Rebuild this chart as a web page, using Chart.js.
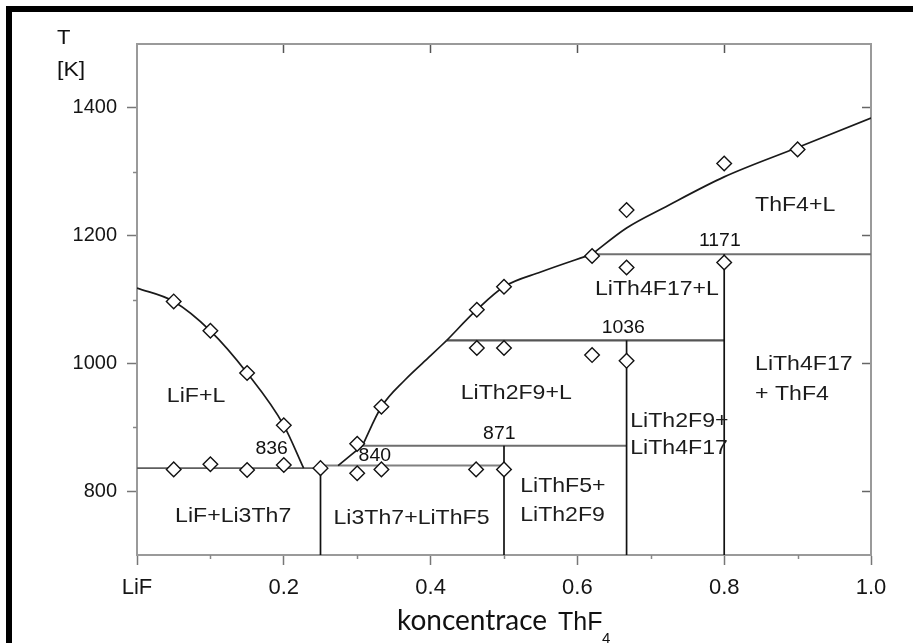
<!DOCTYPE html>
<html>
<head>
<meta charset="utf-8">
<title>LiF – ThF4</title>
<script src="https://cdn.jsdelivr.net/npm/chart.js@4.4.1/dist/chart.umd.min.js"></script>
<style>
  html, body { margin: 0; padding: 0; background: #fff; }
  #wrap { width: 913px; height: 643px; }
</style>
</head>
<body>
<div id="wrap"><canvas id="c" width="913" height="643"></canvas></div>
<script>
// Composition axis: mole fraction of ThF4 (0 = pure LiF)
const xTickValues = [0, 0.2, 0.4, 0.6, 0.8, 1.0];
const xTickLabels = ['LiF', '0.2', '0.4', '0.6', '0.8', '1.0'];
const xMinorTicks = [0.1, 0.3, 0.5, 0.7, 0.9];
const yTickValues = [800, 1000, 1200, 1400];
const yTickLabels = ['800', '1000', '1200', '1400'];
const yMinorTicks = [900, 1100, 1300];

// Liquidus branches, [x ThF4, T in K]
const liquidusLiF     = [[0, 1118], [0.05, 1097], [0.1, 1051], [0.15, 985], [0.2, 903], [0.227, 836]];
const liquidusLi3ThF7 = [[0.274, 840], [0.307, 871]];
const liquidusLiThF5  = [[0.307, 871], [0.333, 932], [0.365, 974], [0.40, 1012], [0.422, 1036]];
const liquidusLiTh2F9 = [[0.422, 1036], [0.463, 1084], [0.50, 1120], [0.55, 1143], [0.62, 1171]];
const liquidusThF4    = [[0.62, 1171], [0.667, 1212], [0.72, 1245], [0.80, 1292], [0.90, 1338], [1.0, 1384]];

// Invariant temperatures (K) and the composition span of each isotherm
const isotherms     = [836, 840, 871, 1036, 1171];
const isothermSpans = [[0, 0.25], [0.25, 0.5], [0.307, 0.667], [0.422, 0.8], [0.62, 1.0]];

// Intermediate compounds: composition and the isotherm closing their boundary
const compoundX   = [0.25, 0.5, 0.667, 0.8];
const compoundTop = [836, 871, 1036, 1171];

// Thermal-analysis measurements
const measuredX = [0.05, 0.1, 0.15, 0.2,
                   0.05, 0.1, 0.15, 0.2, 0.25, 0.3, 0.333, 0.462, 0.5,
                   0.3, 0.333, 0.463, 0.5, 0.62, 0.667, 0.8, 0.9,
                   0.463, 0.5, 0.62, 0.667, 0.667, 0.8];
const measuredT = [1097, 1051, 985, 903,
                   834, 842, 833, 841, 836, 828, 834, 834, 834,
                   874, 932, 1084, 1120, 1168, 1240, 1313, 1335,
                   1024, 1024, 1013, 1004, 1150, 1158];

// Phase-field names, anchored in data coordinates
const regionLabels = [
  { text: 'LiF+L',         x: 0.0804, T: 948,  align: 'center' },
  { text: 'LiF+Li3Th7',    x: 0.131,  T: 760,  align: 'center' },
  { text: 'Li3Th7+LiThF5', x: 0.374,  T: 757,  align: 'center' },
  { text: 'LiThF5+',       x: 0.522,  T: 807,  align: 'left' },
  { text: 'LiTh2F9',       x: 0.522,  T: 763,  align: 'left' },
  { text: 'LiTh2F9+L',     x: 0.441,  T: 953,  align: 'left' },
  { text: 'LiTh2F9+',      x: 0.672,  T: 909,  align: 'left' },
  { text: 'LiTh4F17',      x: 0.672,  T: 867,  align: 'left' },
  { text: 'LiTh4F17+L',    x: 0.624,  T: 1116, align: 'left' },
  { text: 'ThF4+L',        x: 0.842,  T: 1248, align: 'left' },
  { text: 'LiTh4F17',      x: 0.842,  T: 998,  align: 'left' },
  { text: '+ ThF4',        x: 0.842,  T: 951,  align: 'left' }
];
// Where each isotherm's temperature is written (x position, pixel lift above the line)
const isothermLabelX  = [0.1835, 0.324, 0.4936, 0.6625, 0.794];
const isothermLabelDy = [19, 10, 12, 12, 13];
const isothermColors  = ['#5e5e5e', '#808080', '#6e6e6e', '#555555', '#707070'];
const isothermWidths  = [1.7, 2, 2.2, 2.4, 2];

const pairs = a => a.map(([x, y]) => ({ x, y }));
const SANS = "'Liberation Sans', Arial, sans-serif";

const curve = data => ({
  data: pairs(data), showLine: true, pointRadius: 0, borderColor: '#1a1a1a',
  borderWidth: 1.7, cubicInterpolationMode: 'monotone', fill: false, order: 2
});

const datasets = [
  {
    label: 'measured',
    data: measuredX.map((x, i) => ({ x, y: measuredT[i] })),
    showLine: false, pointStyle: 'rectRot', pointRadius: 7.3, pointHoverRadius: 7.3,
    pointBackgroundColor: '#ffffff', pointBorderColor: '#111111', pointBorderWidth: 1.4,
    order: 0, clip: false
  },
  curve(liquidusLiF), curve(liquidusLi3ThF7), curve(liquidusLiThF5),
  curve(liquidusLiTh2F9), curve(liquidusThF4)
];
isotherms.forEach((T, i) => {
  datasets.push({
    data: isothermSpans[i].map(x => ({ x, y: T })), showLine: true, pointRadius: 0,
    borderColor: isothermColors[i], borderWidth: isothermWidths[i], order: 3
  });
});
compoundX.forEach((x, i) => {
  datasets.push({
    data: [{ x, y: 700 }, { x, y: compoundTop[i] }], showLine: true, pointRadius: 0,
    borderColor: '#111111', borderWidth: 1.7, order: 1
  });
});

function stretchText(ctx, text, x, y, align, sx) {
  ctx.save();
  ctx.translate(x, y);
  ctx.scale(sx, 1);
  ctx.textAlign = align;
  ctx.fillText(text, 0, 0);
  ctx.restore();
}

// Frame, minor ticks, phase labels and axis titles
const decor = {
  id: 'decor',
  beforeDraw(chart) {
    const c = chart.ctx;
    c.save();
    c.fillStyle = '#ffffff';
    c.fillRect(0, 0, chart.width, chart.height);
    c.fillStyle = '#000000';
    c.fillRect(6, 6, chart.width - 6, 6);
    c.fillRect(6, 6, 6, chart.height - 6);
    c.restore();
  },
  afterDraw(chart) {
    const c = chart.ctx, xs = chart.scales.x, ys = chart.scales.y;
    const area = chart.chartArea;
    c.save();
    // minor ticks
    c.strokeStyle = '#888';
    c.lineWidth = 1.5;
    xMinorTicks.forEach(v => {
      const px = Math.round(xs.getPixelForValue(v)) + 0.5;
      c.beginPath(); c.moveTo(px, area.bottom); c.lineTo(px, area.bottom + 4); c.stroke();
    });
    yMinorTicks.forEach(v => {
      const py = Math.round(ys.getPixelForValue(v)) + 0.5;
      c.beginPath(); c.moveTo(area.left, py); c.lineTo(area.left - 4, py); c.stroke();
    });

    // phase fields
    c.fillStyle = '#1c1c1c';
    c.textBaseline = 'middle';
    c.font = '21px ' + SANS;
    regionLabels.forEach(l => {
      stretchText(c, l.text, xs.getPixelForValue(l.x), ys.getPixelForValue(l.T), l.align, 1.1);
    });

    // invariant temperatures
    c.font = '18px ' + SANS;
    c.fillStyle = '#111111';
    isotherms.forEach((T, i) => {
      stretchText(c, String(T), xs.getPixelForValue(isothermLabelX[i]),
        ys.getPixelForValue(T) - isothermLabelDy[i], 'center', 1.08);
    });

    // axis titles
    c.fillStyle = '#111111';
    c.font = '20px ' + SANS;
    stretchText(c, 'T', 57, 38, 'left', 1.1);
    stretchText(c, '[K]', 57, 70, 'left', 1.15);

    c.textBaseline = 'alphabetic';
    c.font = "28px Lato, 'Open Sans', sans-serif";
    c.textAlign = 'left';
    c.fillText('koncentrace', 397, 630);
    c.font = '25px ' + SANS;
    c.fillText('ThF', 558, 630);
    c.font = '15px ' + SANS;
    c.fillText('4', 602, 643);
    c.restore();
  }
};

const hiddenTicks = { display: false };

new Chart(document.getElementById('c'), {
  type: 'scatter',
  data: { datasets },
  plugins: [decor],
  options: {
    responsive: false,
    animation: false,
    events: [],
    layout: { padding: { top: 44, right: 42, left: 0, bottom: 0 } },
    plugins: { legend: { display: false }, tooltip: { enabled: false } },
    scales: {
      x: {
        type: 'linear', position: 'bottom', min: 0, max: 1,
        afterBuildTicks: s => { s.ticks = xTickValues.map(v => ({ value: v })); },
        afterFit: s => { s.height = 88; },
        ticks: {
          callback: (v, i) => xTickLabels[i], color: '#151515',
          font: { family: SANS, size: 22 }, padding: 10, maxRotation: 0, autoSkip: false
        },
        grid: { drawOnChartArea: false, tickLength: 10, tickColor: '#777', tickWidth: 1.5 },
        border: { color: '#9a9a9a', width: 2 }
      },
      y: {
        type: 'linear', position: 'left', min: 700, max: 1500,
        afterBuildTicks: s => { s.ticks = yTickValues.map(v => ({ value: v })); },
        afterFit: s => { s.width = 137; },
        ticks: {
          callback: (v, i) => yTickLabels[i], color: '#151515',
          font: { family: SANS, size: 20 }, padding: 10
        },
        grid: { drawOnChartArea: false, tickLength: 10, tickColor: '#777', tickWidth: 1.5 },
        border: { color: '#9a9a9a', width: 2 }
      },
      x2: {
        type: 'linear', position: 'top', min: 0, max: 1,
        afterBuildTicks: s => { s.ticks = xTickValues.slice(1, -1).map(v => ({ value: v })); },
        afterFit: s => { s.height = 0; },
        ticks: hiddenTicks,
        grid: { drawOnChartArea: false, tickLength: -9, tickColor: '#555', tickWidth: 1.5 },
        border: { color: '#9a9a9a', width: 2 }
      },
      y2: {
        type: 'linear', position: 'right', min: 700, max: 1500,
        afterBuildTicks: s => { s.ticks = yTickValues.map(v => ({ value: v })); },
        afterFit: s => { s.width = 0; },
        ticks: hiddenTicks,
        grid: { drawOnChartArea: false, tickLength: -9, tickColor: '#666', tickWidth: 1.5 },
        border: { color: '#9a9a9a', width: 2 }
      }
    }
  }
});
</script>
</body>
</html>
